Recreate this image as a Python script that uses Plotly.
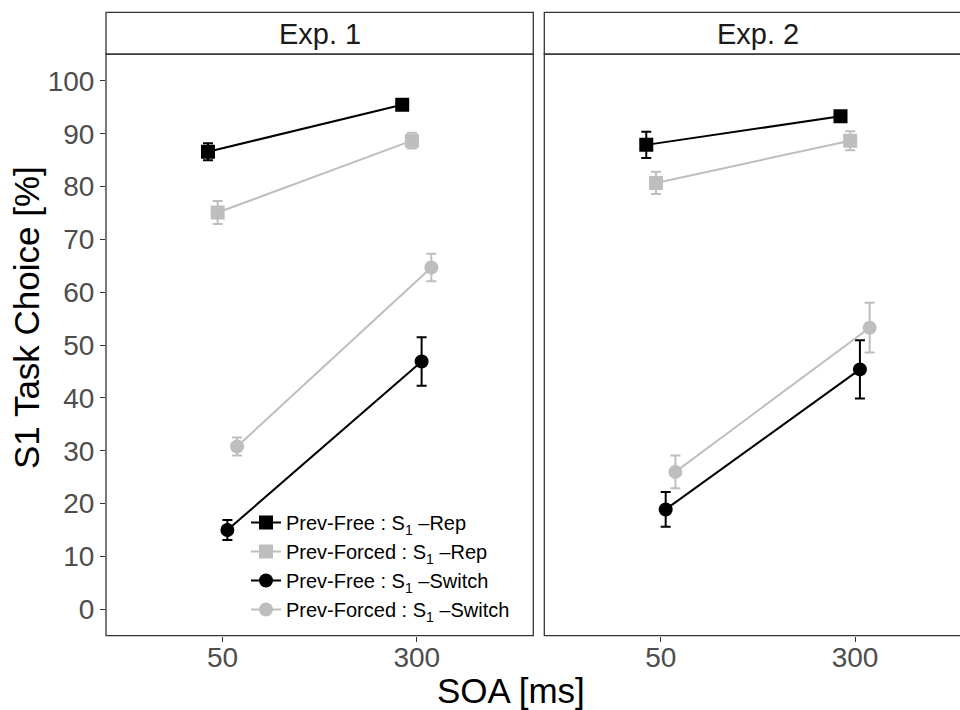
import plotly.graph_objects as go

# ---- data ----
soa_labels = ["50", "300"]
experiments = ["Exp. 1", "Exp. 2"]
conditions = [
    "Prev-Free : S<sub>1</sub> –Rep",
    "Prev-Forced : S<sub>1</sub> –Rep",
    "Prev-Free : S<sub>1</sub> –Switch",
    "Prev-Forced : S<sub>1</sub> –Switch",
]
exp1_free_rep = [86.6, 95.5]
exp1_free_rep_se = [1.6, 0.9]
exp1_forced_rep = [75.1, 88.7]
exp1_forced_rep_se = [2.2, 1.5]
exp1_free_switch = [15.0, 46.9]
exp1_free_switch_se = [1.9, 4.6]
exp1_forced_switch = [30.8, 64.7]
exp1_forced_switch_se = [1.7, 2.6]

exp2_free_rep = [87.9, 93.3]
exp2_free_rep_se = [2.5, 0.9]
exp2_forced_rep = [80.7, 88.7]
exp2_forced_rep_se = [2.1, 1.8]
exp2_free_switch = [18.9, 45.4]
exp2_free_switch_se = [3.3, 5.5]
exp2_forced_switch = [26.0, 53.3]
exp2_forced_switch_se = [3.1, 4.7]

y_ticks = [0, 10, 20, 30, 40, 50, 60, 70, 80, 90, 100]

# ---- styling ----
W, H = 960, 710
colors = ["#000000", "#BEBEBE", "#000000", "#BEBEBE"]
symbols = ["square", "square", "circle", "circle"]
dodge = [-0.075, -0.025, 0.025, 0.075]
FONT = "Liberation Sans, Arial, sans-serif"
BORDER = "#333333"

exp_data = [
    [(exp1_free_rep, exp1_free_rep_se), (exp1_forced_rep, exp1_forced_rep_se),
     (exp1_free_switch, exp1_free_switch_se), (exp1_forced_switch, exp1_forced_switch_se)],
    [(exp2_free_rep, exp2_free_rep_se), (exp2_forced_rep, exp2_forced_rep_se),
     (exp2_free_switch, exp2_free_switch_se), (exp2_forced_switch, exp2_forced_switch_se)],
]

fig = go.Figure()
for e, series in enumerate(exp_data):
    xa = "x" if e == 0 else "x2"
    ya = "y" if e == 0 else "y2"
    for k, (vals, se) in enumerate(series):
        xs = [i + 1 + dodge[k] for i in range(len(soa_labels))]
        fig.add_trace(go.Scatter(
            x=xs, y=vals, xaxis=xa, yaxis=ya,
            mode="lines+markers",
            name=conditions[k], legendgroup=conditions[k],
            showlegend=(e == 0),
            line=dict(color=colors[k], width=2),
            marker=dict(symbol=symbols[k], size=14, color=colors[k]),
            error_y=dict(type="data", array=se, visible=True,
                         color=colors[k], thickness=2, width=5),
        ))

def px_x(p):
    return p / W

def px_y(p):
    return 1 - p / H

x1_l, x1_r = 106, 533.3
x2_l, x2_r = 544.3, 971
p_top, p_bot = 54, 635.7
s_top = 12.3

common_x = dict(range=[0.4, 2.6], tickvals=[1, 2], ticktext=soa_labels,
                ticks="outside", ticklen=5, tickwidth=1, tickcolor=BORDER,
                showgrid=False, zeroline=False, showline=False,
                ticklabelstandoff=-8,
                tickfont=dict(family=FONT, size=28, color="#4D4D4D"),
                fixedrange=True)
fig.update_layout(
    width=W, height=H,
    margin=dict(l=0, r=0, t=0, b=0),
    paper_bgcolor="white", plot_bgcolor="white",
    xaxis=dict(common_x, domain=[px_x(x1_l), px_x(x1_r)], anchor="y"),
    xaxis2=dict(common_x, domain=[px_x(x2_l), 1.0], anchor="y2",
                range=[0.4, 0.4 + (W - x2_l) / (x1_r - x1_l) * 2.2]),
    yaxis=dict(range=[-5.0, 105.1], domain=[px_y(p_bot), px_y(p_top)],
               tickvals=y_ticks, ticks="outside", ticklen=5, tickwidth=1,
               tickcolor=BORDER, showgrid=False, zeroline=False, showline=False,
               tickfont=dict(family=FONT, size=28, color="#4D4D4D"),
               anchor="x"),
    yaxis2=dict(range=[-5.0, 105.1], domain=[px_y(p_bot), px_y(p_top)],
                showticklabels=False, ticks="", showgrid=False,
                zeroline=False, showline=False, anchor="x2", matches="y"),
    showlegend=True,
    legend=dict(x=px_x(246), y=px_y(503), xanchor="left", yanchor="top",
                bgcolor="rgba(0,0,0,0)", borderwidth=0,
                font=dict(family=FONT, size=20, color="#000000"),
                tracegroupgap=0, traceorder="normal"),
)

shapes = []
for (l, r) in [(x1_l, x1_r), (x2_l, x2_r)]:
    shapes.append(dict(type="rect", xref="paper", yref="paper",
                       x0=px_x(l), x1=px_x(r), y0=px_y(p_bot), y1=px_y(p_top),
                       line=dict(color=BORDER, width=1.3), fillcolor="rgba(0,0,0,0)",
                       layer="above"))
    shapes.append(dict(type="rect", xref="paper", yref="paper",
                       x0=px_x(l), x1=px_x(r), y0=px_y(p_top), y1=px_y(s_top),
                       line=dict(color=BORDER, width=1.3), fillcolor="white",
                       layer="above"))
fig.update_layout(shapes=shapes)

annotations = []
for (l, r), label in zip([(x1_l, x1_r), (x2_l, x2_r)], experiments):
    annotations.append(dict(text=label, xref="paper", yref="paper",
                            x=px_x((l + r) / 2), y=px_y((s_top + p_top) / 2 + 1),
                            xanchor="center", yanchor="middle", showarrow=False,
                            font=dict(family=FONT, size=29, color="#1A1A1A")))
annotations.append(dict(text="SOA [ms]", xref="paper", yref="paper",
                        x=px_x(511), y=px_y(690), xanchor="center", yanchor="middle",
                        showarrow=False, font=dict(family=FONT, size=35, color="#000000")))
annotations.append(dict(text="S1 Task Choice [%]", xref="paper", yref="paper",
                        x=px_x(26), y=px_y(318), xanchor="center",
                        yanchor="middle", textangle=-90, showarrow=False,
                        font=dict(family=FONT, size=35, color="#000000")))
fig.update_layout(annotations=annotations)

fig.write_html("out.html")
